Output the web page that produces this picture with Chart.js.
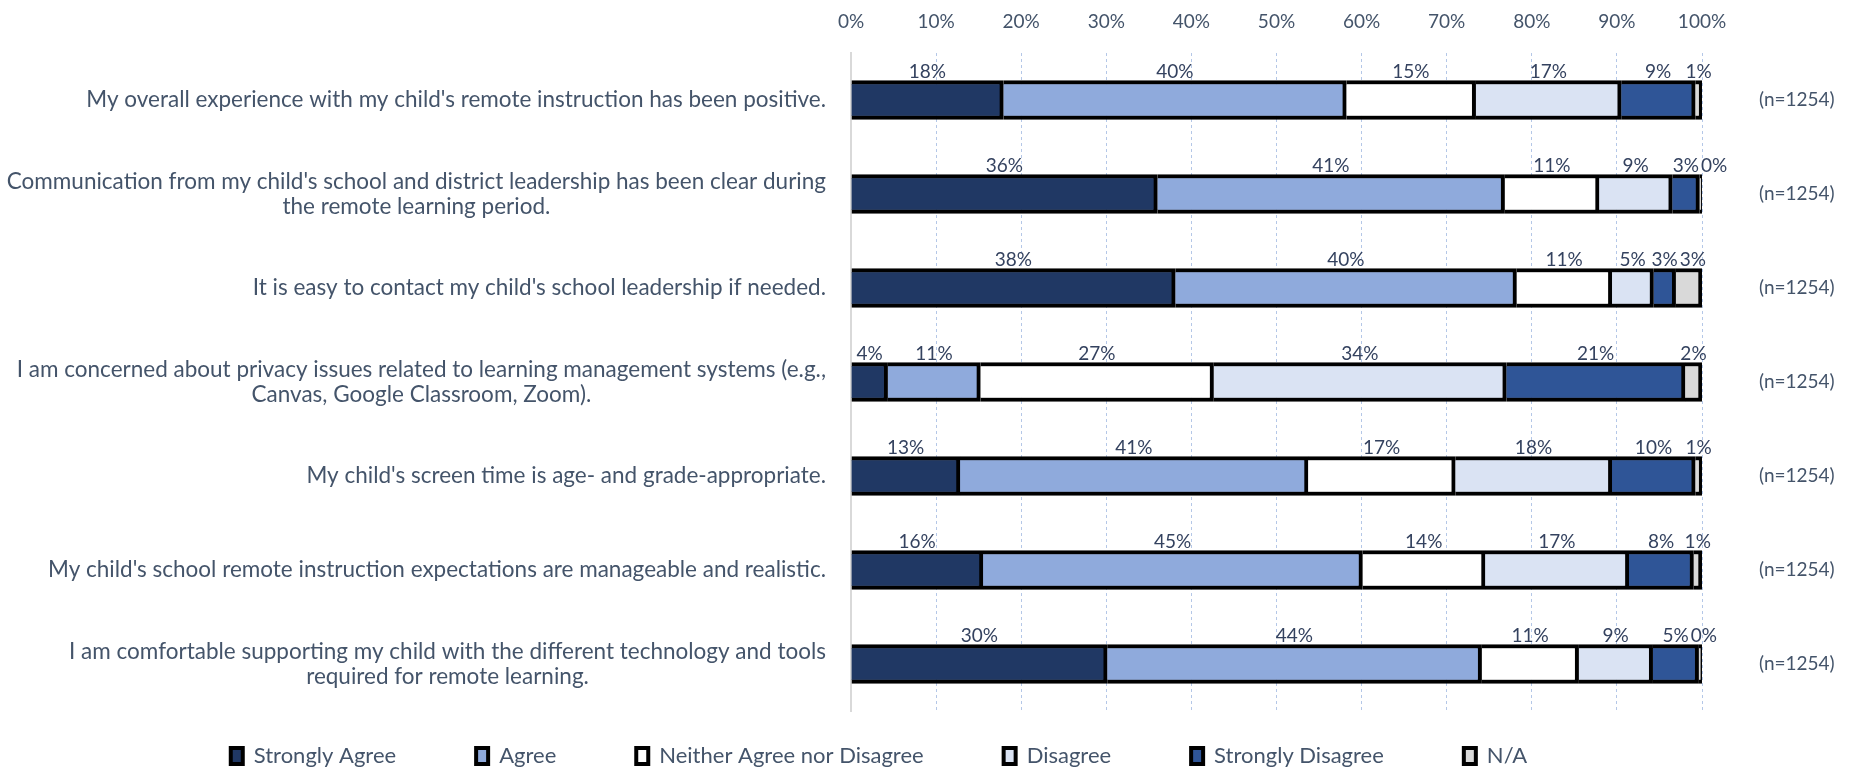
<!DOCTYPE html>
<html lang="en-US">

<head>
    <meta charset="UTF-8">
    <title>remote learning survey</title>
    <style>
        html, body { margin: 0; padding: 0; background: #ffffff; }
        canvas { display: block; }
    </style>
</head>

<body>
    <canvas id="survey" width="1858" height="770"></canvas>
    <script src="https://cdn.jsdelivr.net/npm/chart.js"></script>
    <script>
        // survey statements (multi line ones are arrays)
        const questions = [
            "My overall experience with my child's remote instruction has been positive.",
            ["Communication from my child's school and district leadership has been clear during", "the remote learning period."],
            "It is easy to contact my child's school leadership if needed.",
            ["I am concerned about privacy issues related to learning management systems (e.g.,", "Canvas, Google Classroom, Zoom)."],
            "My child's screen time is age- and grade-appropriate.",
            "My child's school remote instruction expectations are manageable and realistic.",
            ["I am comfortable supporting my child with the different technology and tools", "required for remote learning."]
        ]
        const sampleSizes = ['(n=1254)', '(n=1254)', '(n=1254)', '(n=1254)', '(n=1254)', '(n=1254)', '(n=1254)']
        const percentTicks = [0, 10, 20, 30, 40, 50, 60, 70, 80, 90, 100]

        // percentages per answer, one value per statement
        const stronglyAgree = [17.9, 36.0, 38.1, 4.3, 12.8, 15.5, 30.1]
        const agree = [40.3, 40.8, 40.1, 10.9, 40.9, 44.6, 44.0]
        const neither = [15.2, 11.1, 11.2, 27.4, 17.3, 14.4, 11.4]
        const disagree = [17.1, 8.6, 4.9, 34.4, 18.4, 16.9, 8.7]
        const stronglyDisagree = [8.7, 3.2, 2.6, 21.0, 9.8, 7.6, 5.4]
        const notApplicable = [0.8, 0.3, 3.1, 2.0, 0.8, 1.0, 0.4]

        const textColor = '#44546A'
        const valueColor = '#34425F'
        Chart.defaults.font.family = 'Lato'
        Chart.defaults.font.size = 18
        Chart.defaults.color = textColor

        function series(label, data, color) {
            return {
                label: label,
                data: data,
                backgroundColor: color,
                borderColor: '#000000',
                borderWidth: 4,
                barThickness: 39
            }
        }

        // percent labels just above every segment, pushed right when they would collide
        const valueLabels = {
            id: 'valueLabels',
            afterDatasetsDraw(chart) {
                const ctx = chart.ctx
                const sets = chart.data.datasets
                ctx.save()
                ctx.font = '19px Lato'
                ctx.fillStyle = valueColor
                ctx.textAlign = 'center'
                ctx.textBaseline = 'bottom'
                chart.data.labels.forEach((q, j) => {
                    let prevRight = -Infinity
                    sets.forEach((ds, i) => {
                        const bar = chart.getDatasetMeta(i).data[j]
                        const p = bar.getProps(['x', 'y', 'base', 'height'], true)
                        const text = Math.round(ds.data[j]) + '%'
                        const w = ctx.measureText(text).width
                        let x = (p.x + p.base) / 2
                        if (x - w / 2 < prevRight + 2) x = prevRight + 2 + w / 2
                        prevRight = x + w / 2
                        ctx.fillText(text, x, p.y - p.height / 2 + 1)
                    })
                })
                ctx.restore()
            }
        }

        // statements: block right aligned, lines centred inside the block
        const questionLabels = {
            id: 'questionLabels',
            afterDraw(chart) {
                const scale = chart.scales.y
                const ctx = chart.ctx
                const lineHeight = 25
                ctx.save()
                ctx.font = '22.5px Lato'
                ctx.fillStyle = textColor
                ctx.textAlign = 'center'
                ctx.textBaseline = 'middle'
                chart.data.labels.forEach((label, i) => {
                    const lines = Array.isArray(label) ? label : [label]
                    const widest = Math.max(...lines.map(l => ctx.measureText(l).width))
                    const cx = scale.right - 25 - widest / 2
                    const y = scale.getPixelForTick(i)
                    lines.forEach((line, k) => {
                        ctx.fillText(line, cx, y + (k - (lines.length - 1) / 2) * lineHeight)
                    })
                })
                ctx.restore()
            }
        }

        // move the legend row under the plot like the original
        const legendPlace = {
            id: 'legendPlace',
            afterLayout(chart) {
                const lg = chart.legend
                lg.top -= 46
                lg.left -= 50
                lg.right -= 50
            }
        }

        const ctx = document.getElementById('survey').getContext('2d')
        const surveyChart = new Chart(ctx, {
            type: 'bar',
            data: {
                labels: questions,
                datasets: [
                    series('Strongly Agree', stronglyAgree, '#203864'),
                    series('Agree', agree, '#8FAADC'),
                    series('Neither Agree nor Disagree', neither, '#FFFFFF'),
                    series('Disagree', disagree, '#DAE3F3'),
                    series('Strongly Disagree', stronglyDisagree, '#2F5597'),
                    series('N/A', notApplicable, '#D9D9D9')
                ]
            },
            plugins: [valueLabels, questionLabels, legendPlace],
            options: {
                indexAxis: 'y',
                responsive: false,
                animation: false,
                layout: { padding: 0 },
                plugins: {
                    tooltip: { enabled: false },
                    legend: {
                        position: 'bottom',
                        maxHeight: 59,
                        labels: {
                            color: textColor,
                            font: { size: 22 },
                            boxWidth: 12,
                            boxHeight: 16,
                            padding: 80
                        }
                    }
                },
                scales: {
                    x: {
                        position: 'top',
                        stacked: true,
                        min: 0,
                        max: 100,
                        afterFit: s => { s.height = 53 },
                        afterBuildTicks: s => { s.ticks = percentTicks.map(v => ({ value: v })) },
                        ticks: {
                            padding: 20,
                            color: textColor,
                            font: { size: 19 },
                            callback: v => v + '%'
                        },
                        grid: {
                            color: '#B4C7E7',
                            lineWidth: 1,
                            drawTicks: false
                        },
                        border: { display: false, dash: [3, 3] }
                    },
                    y: {
                        stacked: true,
                        afterFit: s => { s.width = 851 },
                        ticks: { color: 'rgba(0,0,0,0)', font: { size: 19 } },
                        grid: { display: false },
                        border: { color: '#D9D9D9', width: 2 }
                    },
                    y2: {
                        type: 'category',
                        position: 'right',
                        labels: sampleSizes,
                        offset: true,
                        afterFit: s => { s.width = 156 },
                        ticks: { padding: 0, color: textColor, font: { size: 19 } },
                        grid: { display: false, drawTicks: true, tickLength: 57 },
                        border: { display: false }
                    }
                }
            }
        })
    </script>

</body>

</html>
